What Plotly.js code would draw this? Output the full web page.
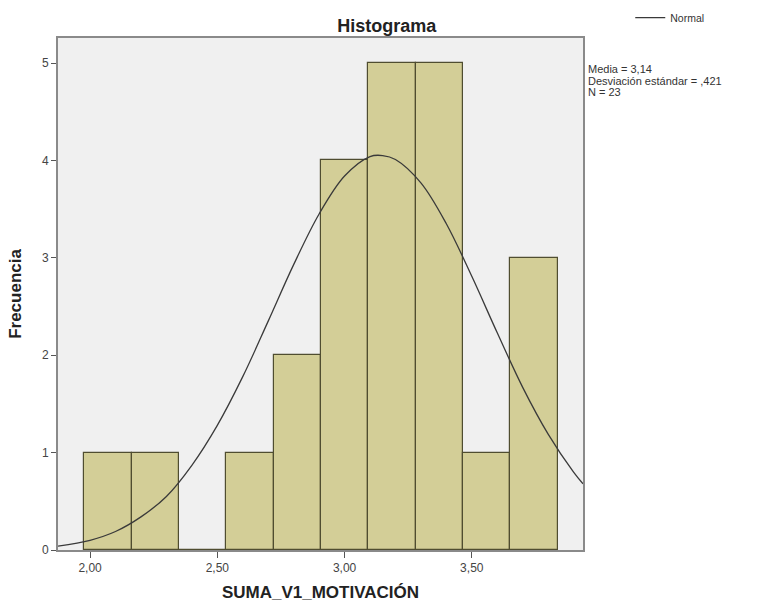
<!DOCTYPE html>
<html>
<head>
<meta charset="utf-8">
<script src="https://cdn.plot.ly/plotly-3.0.1.min.js"></script>
<style>html,body{margin:0;padding:0;background:#fff;}#chart{width:757px;height:605px;}</style>
</head>
<body>
<div id="chart"></div>
<script>
// Histogram bins (centers) and frequencies
var binCenters = [2.071, 2.257, 2.443, 2.629, 2.815, 3.001, 3.187, 3.373, 3.559, 3.745];
var frequencies = [1, 1, 0, 1, 2, 4, 5, 5, 1, 3];
var binWidth = 0.186;

// Normal curve points
var curveX = [1.874, 2.0, 2.1, 2.2, 2.3, 2.4, 2.5, 2.6, 2.7, 2.8, 2.9, 3.0, 3.1, 3.15, 3.2, 3.3, 3.4, 3.5, 3.6, 3.7, 3.8, 3.9, 3.937];
var curveY = [0.04, 0.10, 0.19, 0.34, 0.55, 0.87, 1.28, 1.78, 2.35, 2.93, 3.45, 3.84, 4.04, 4.05, 4.01, 3.77, 3.35, 2.81, 2.23, 1.67, 1.19, 0.80, 0.68];

var xTickVals = [2.0, 2.5, 3.0, 3.5];
var xTickText = ['2,00', '2,50', '3,00', '3,50'];
var yTickVals = [0, 1, 2, 3, 4, 5];

var statsLines = ['Media = 3,14', 'Desviación estándar = ,421', 'N = 23'];

var font = 'Arial, "Liberation Sans", sans-serif';

var traces = [
  {
    type: 'bar',
    x: binCenters,
    y: frequencies,
    width: binWidth,
    marker: {color: '#d3ce97', line: {color: '#4f4d30', width: 1.2}},
    showlegend: false,
    hoverinfo: 'x+y'
  },
  {
    type: 'scatter',
    mode: 'lines',
    x: curveX,
    y: curveY,
    name: 'Normal',
    line: {color: '#3a3a3a', width: 1.3, shape: 'spline'}
  }
];

// stats text: one annotation per line for tight line spacing
var statsAnnotations = statsLines.map(function (t, i) {
  return {
    xref: 'paper', yref: 'paper',
    x: 1.008, y: 0.939 - i * 0.0225, xanchor: 'left', yanchor: 'middle',
    align: 'left', showarrow: false, text: t, borderpad: 0,
    font: {family: font, size: 11, color: '#333'}
  };
});

var layout = {
  width: 757,
  height: 605,
  margin: {l: 58, r: 174, t: 38, b: 55},
  paper_bgcolor: '#ffffff',
  plot_bgcolor: '#f0f0f0',
  font: {family: font, size: 11, color: '#333'},
  bargap: 0,
  title: {
    text: '<b>Histograma</b>',
    font: {family: font, size: 18, color: '#222'},
    xref: 'container', x: 0.511, xanchor: 'center',
    yref: 'container', y: 0.958, yanchor: 'middle'
  },
  xaxis: {
    range: [1.874, 3.937],
    tickvals: xTickVals,
    ticktext: xTickText,
    ticks: 'outside', ticklen: 6, tickcolor: '#555', tickwidth: 1,
    showgrid: false, zeroline: false,
    showline: true, mirror: true, linecolor: '#8a8a8a', linewidth: 2,
    tickfont: {family: font, size: 12, color: '#444'},
    title: {text: '<b>SUMA_V1_MOTIVACIÓN</b>', font: {family: font, size: 17, color: '#222'}, standoff: 12}
  },
  yaxis: {
    range: [0, 5.257],
    tickvals: yTickVals,
    ticks: 'outside', ticklen: 5, tickcolor: '#555', tickwidth: 1,
    showgrid: false, zeroline: false,
    showline: true, mirror: true, linecolor: '#8a8a8a', linewidth: 2,
    tickfont: {family: font, size: 12, color: '#444'},
    title: {text: '<b>Frecuencia</b>', font: {family: font, size: 17, color: '#222'}, standoff: 16}
  },
  legend: {
    x: 1.09, xanchor: 'left',
    yref: 'container', y: 0.995, yanchor: 'top',
    bgcolor: 'rgba(0,0,0,0)',
    font: {family: font, size: 10.5, color: '#333'}
  },
  showlegend: true,
  annotations: statsAnnotations
};

Plotly.newPlot('chart', traces, layout, {displayModeBar: false, responsive: false});
</script>
</body>
</html>
